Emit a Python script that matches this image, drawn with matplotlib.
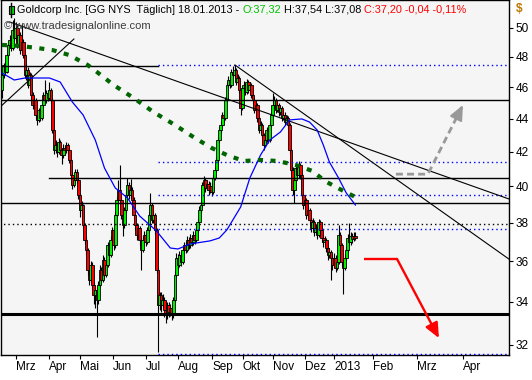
import matplotlib
matplotlib.use("Agg")
import matplotlib.pyplot as plt
import numpy as np
from matplotlib.patches import Rectangle
from matplotlib.lines import Line2D
from matplotlib.transforms import IdentityTransform
from matplotlib.ticker import FixedLocator, NullLocator, NullFormatter

# ---------------- data (daily candles, Feb 2012 - 18 Jan 2013) ----------------
first_open = 45.82
closes = [
    46.80, 47.46, 47.00, 48.13, 48.82, 49.16, 48.61, 49.86, 49.30, 50.00,
    48.82, 49.51, 48.47, 49.02, 48.13, 46.80, 47.13, 46.14, 46.80, 45.50,
    44.86, 45.18, 44.24, 43.93, 44.55, 44.05, 44.86, 45.50, 45.18, 45.63,
    45.31, 45.82, 45.18, 43.31, 42.11, 42.41, 41.99, 42.58, 42.11, 41.81,
    42.23, 42.11, 42.41, 42.11, 41.52, 40.65, 40.08, 40.37, 40.82, 40.37,
    39.52, 38.70, 38.97, 37.89, 37.10, 36.58, 35.57, 35.07, 35.82, 34.82,
    34.33, 34.58, 34.09, 34.82, 35.57, 35.07, 36.07, 35.32, 35.82, 36.84,
    36.32, 37.10, 37.63, 36.84, 38.43, 39.25, 39.80, 39.25, 38.43, 37.89,
    38.70, 39.52, 40.08, 39.52, 39.80, 39.25, 38.43, 37.89, 37.36, 37.73,
    37.10, 36.58, 37.10, 37.36, 37.00, 37.63, 38.43, 38.97, 38.16, 38.43,
    37.63, 35.57, 33.85, 34.33, 33.85, 34.09, 33.62, 33.38, 33.85, 33.52,
    33.71, 33.38, 34.09, 35.32, 36.17, 35.82, 36.32, 35.97, 36.58, 36.84,
    36.58, 37.10, 36.84, 37.20, 37.00, 37.36, 37.10, 37.63, 38.05, 38.70,
    38.97, 40.08, 40.37, 39.92, 40.14, 39.80, 40.03, 39.69, 40.48, 40.94,
    41.52, 42.70, 43.31, 43.62, 44.24, 44.05, 45.18, 46.14, 46.47, 46.14,
    47.00, 46.80, 47.13, 46.34, 46.60, 45.82, 44.67, 45.95, 46.14, 45.69,
    46.34, 45.82, 46.14, 45.50, 45.18, 44.55, 44.86, 44.05, 43.31, 43.62,
    43.01, 42.41, 42.70, 43.31, 42.70, 43.62, 44.24, 44.86, 45.18, 44.55,
    44.86, 44.42, 44.67, 44.05, 44.24, 43.80, 44.05, 43.62, 42.11, 40.94,
    39.80, 40.37, 41.05, 40.65, 41.23, 40.65, 39.52, 38.97, 39.25, 38.43,
    38.70, 38.16, 37.73, 38.05, 37.52, 37.73, 37.36, 38.05, 37.63, 37.20,
    37.00, 37.10, 36.68, 36.32, 36.48, 36.17, 35.82, 36.17, 35.67, 35.97,
    37.36, 36.84, 35.97, 35.67, 36.17, 36.58, 37.20, 37.00, 37.31, 37.15,
    37.32, 37.20,
]
highs = [
    46.95, 47.60, 47.70, 48.30, 49.00, 49.50, 49.40, 50.57, 50.71, 50.40,
    50.20, 49.80, 49.70, 50.30, 49.20, 48.30, 47.50, 47.30, 47.00, 46.95,
    45.70, 45.40, 45.30, 44.40, 44.70, 44.70, 45.00, 45.70, 46.47, 45.85,
    45.80, 46.34, 45.95, 45.30, 43.40, 42.70, 42.55, 42.80, 42.70, 42.25,
    42.45, 42.40, 42.60, 42.55, 42.25, 41.65, 40.80, 40.60, 41.00, 41.00,
    40.50, 39.65, 39.20, 39.05, 38.00, 37.25, 36.70, 35.70, 36.00, 35.95,
    34.95, 34.80, 34.70, 35.00, 35.80, 35.70, 36.30, 36.20, 36.00, 37.00,
    36.95, 37.30, 37.80, 37.75, 38.60, 39.40, 40.37, 41.23, 39.40, 38.55,
    38.85, 39.70, 40.48, 40.25, 40.40, 39.95, 39.40, 38.60, 38.00, 37.90,
    37.85, 37.25, 37.30, 37.55, 37.50, 37.80, 38.60, 39.64, 39.10, 38.70,
    38.55, 37.75, 35.70, 34.50, 34.50, 34.40, 34.25, 33.75, 34.00, 34.00,
    33.90, 33.85, 34.25, 35.50, 36.40, 36.35, 36.55, 36.45, 36.80, 37.00,
    37.00, 37.30, 37.25, 37.40, 37.35, 37.55, 37.50, 37.85, 38.25, 38.90,
    39.20, 40.25, 40.60, 40.50, 40.35, 40.30, 40.25, 40.20, 40.65, 41.10,
    41.70, 42.90, 43.50, 43.85, 44.45, 44.50, 45.40, 46.35, 46.70, 46.65,
    47.20, 47.40, 47.46, 47.25, 46.85, 46.70, 45.95, 46.10, 46.40, 46.30,
    46.55, 46.45, 46.35, 46.25, 45.65, 45.30, 45.05, 45.00, 44.20, 43.85,
    43.75, 43.15, 42.90, 43.50, 43.45, 43.80, 44.45, 45.63, 45.45, 45.30,
    45.05, 45.00, 44.85, 44.80, 44.45, 44.40, 44.25, 44.20, 43.75, 42.25,
    41.10, 40.55, 41.25, 41.20, 41.45, 41.35, 40.75, 39.65, 39.45, 39.35,
    38.90, 38.80, 38.30, 38.25, 38.15, 37.95, 37.85, 38.20, 38.15, 37.75,
    37.35, 37.30, 37.20, 36.80, 36.70, 36.60, 36.30, 36.40, 36.30, 36.15,
    37.90, 37.50, 36.95, 36.10, 36.35, 36.80, 37.40, 38.00, 37.50, 37.45,
    37.50, 37.54,
]
lows = [
    45.31, 46.60, 46.85, 46.90, 47.95, 48.60, 48.40, 48.50, 49.10, 49.15,
    48.60, 48.70, 48.20, 48.30, 47.90, 46.60, 46.50, 45.95, 46.00, 45.30,
    44.60, 44.70, 44.00, 43.60, 43.80, 43.85, 43.90, 44.70, 45.00, 45.00,
    45.10, 45.20, 45.00, 43.10, 41.90, 41.95, 41.70, 41.85, 41.90, 41.30,
    41.65, 41.80, 41.95, 41.90, 41.35, 40.40, 39.85, 39.95, 40.20, 40.20,
    39.30, 38.30, 38.50, 37.60, 36.90, 36.30, 35.30, 34.80, 34.95, 34.60,
    33.90, 33.71, 32.36, 33.90, 34.70, 34.90, 34.95, 35.10, 35.20, 35.70,
    36.00, 36.20, 36.95, 36.60, 36.70, 38.30, 39.10, 39.05, 38.20, 37.30,
    37.75, 38.55, 39.40, 39.30, 39.35, 39.05, 38.20, 37.60, 37.10, 37.20,
    36.80, 35.57, 36.45, 36.95, 36.80, 36.90, 37.50, 38.30, 38.00, 38.00,
    37.40, 35.40, 31.68, 33.60, 33.50, 33.70, 33.30, 33.00, 33.20, 33.30,
    33.35, 33.15, 33.25, 34.00, 35.20, 35.60, 35.70, 35.75, 35.85, 36.45,
    36.40, 36.45, 36.65, 36.70, 36.80, 36.85, 36.90, 37.00, 37.50, 37.95,
    38.55, 38.85, 39.95, 39.70, 39.80, 39.55, 39.65, 39.45, 39.60, 40.35,
    40.80, 41.40, 42.55, 43.10, 43.50, 43.80, 43.95, 45.05, 46.00, 45.95,
    46.00, 46.60, 46.65, 46.15, 46.20, 45.60, 44.24, 44.55, 45.80, 45.50,
    45.55, 45.60, 45.70, 45.30, 44.95, 44.35, 44.40, 43.80, 43.10, 43.15,
    42.80, 42.10, 42.30, 42.60, 42.50, 42.60, 43.50, 44.10, 44.70, 44.35,
    44.40, 44.20, 44.25, 43.85, 43.90, 43.60, 43.65, 43.40, 41.90, 40.70,
    39.55, 39.08, 40.25, 40.45, 40.50, 40.45, 39.30, 38.75, 38.85, 38.20,
    38.30, 37.95, 37.50, 37.60, 37.30, 37.40, 37.15, 37.25, 37.45, 37.00,
    36.75, 36.85, 36.45, 36.05, 36.15, 35.07, 35.55, 35.70, 35.45, 35.55,
    35.85, 36.65, 35.75, 34.40, 35.55, 36.05, 36.45, 36.80, 36.85, 36.95,
    37.05, 37.08,
]
opens = [first_open] + closes[:-1]

# moving averages (bar index, value)
ma_fast_idx = [0, 8, 15, 31, 38, 46, 53, 61, 67, 74, 82, 90, 101, 110, 115, 123,
               136, 142, 147, 156, 162, 169, 175, 182, 188, 196, 201, 206, 210,
               214, 220, 225, 231]
ma_fast_val = [46.93, 46.47, 46.60, 46.60, 46.34, 45.05, 44.24, 42.70, 41.05, 39.92,
               39.36, 38.37, 37.57, 36.68, 36.63, 36.89, 37.05, 37.20, 37.63, 38.86,
               40.48, 41.81, 42.70, 43.19, 43.93, 43.99, 43.80, 43.31, 42.41, 41.40,
               40.48, 39.64, 38.97]
ma_slow_idx = [0, 12, 23, 33, 44, 56, 62, 73, 86, 99, 113, 126, 137, 147, 158, 169,
               180, 192, 203, 211, 222, 231]
ma_slow_val = [48.82, 48.75, 48.61, 48.47, 48.13, 47.46, 47.00, 46.14, 45.31, 44.42,
               43.62, 42.83, 42.23, 41.81, 41.46, 41.52, 41.46, 41.23, 40.88, 40.31,
               39.80, 39.41]

# drawn horizontal levels: (price, start bar)
solid_levels = [(45.18, -5), (40.50, 31), (39.08, -5)]
top_level = (47.40, -5, 102)
thick_level = 33.43
dotted_black_level = 37.94
fib_low, fib_high, fib_start = 31.60, 47.46, 102
fib_ratios = [0.0, 0.382, 0.5, 0.618, 1.0]

# trend lines: ((bar, price), (bar, price))
trend_lines = [((5.2, 50.42), (331.4, 39.30)),
               ((152.3, 47.46), (331.4, 36.11)),
               ((-1.3, 44.73), (47.0, 49.23))]

# forecast arrows
red_arrow = [(236.6, 36.12), (258.2, 36.12), (285.6, 32.31)]
gray_arrow = [(257.5, 40.70), (278.4, 40.70), (301.3, 44.86)]

month_pos = [9.2, 30.7, 51, 72.5, 94.1, 115, 137.3, 157.5, 177.1, 198, 217,
             242.5, 271.2, 301.3]
month_labels = ['Mrz', 'Apr', 'Mai', 'Jun', 'Jul', 'Aug', 'Sep', 'Okt', 'Nov',
                'Dez', '2013', 'Feb', 'Mrz', 'Apr']
y_ticks = [32, 34, 36, 38, 40, 42, 44, 46, 48, 50]

title_parts = [("Goldcorp Inc. [GG NYS  Täglich] 18.01.2013 - ", "black"),
               ("O:37,32", "#00C000"),
               (" H:37,54 L:37,08 ", "black"),
               ("C:37,20 -0,04 -0,11%", "#FF0000")]

# ---------------- figure ----------------
plt.rcParams['font.family'] = ['Liberation Sans', 'DejaVu Sans']
W, H = 532, 380
fig = plt.figure(figsize=(W / 100, H / 100), dpi=100)
fig.patch.set_facecolor('white')
ax = fig.add_axes([1 / W, 25 / H, 508 / W, 355 / H])
ax.set_facecolor('#F5F5F5')
ax.set_yscale('log')
ax.set_ylim(31.55, 52.01)
ax.set_xlim(-0.65, 331.4)

n = len(closes)
x = np.arange(n)
o = np.array(opens)
c = np.array(closes)
cols = ['#00EE00' if cc >= oo else '#FF0000' for oo, cc in zip(o, c)]
ax.vlines(x, lows, highs, color='black', lw=0.8, zorder=3)
ax.bar(x, c - o, bottom=o, width=1.75, color=cols, edgecolor='black',
       linewidth=0.6, zorder=4)

xr = 331.4
for lvl, start in solid_levels:
    ax.plot([start, xr], [lvl, lvl], color='black', lw=1.0, zorder=5)
ax.plot([top_level[1], top_level[2]], [top_level[0]] * 2, color='black', lw=1.0, zorder=5)
ax.plot([-5, xr], [thick_level] * 2, color='black', lw=2.2, zorder=5)
ax.plot([-5, xr], [dotted_black_level] * 2, color='black', lw=1.0,
        ls=(0, (1, 2.2)), zorder=5)
for r in fib_ratios:
    lvl = fib_high - r * (fib_high - fib_low)
    ax.plot([fib_start, xr], [lvl, lvl], color='#0000FF', lw=1.0,
            ls=(0, (1, 2.2)), zorder=5)

for (x0, y0), (x1, y1) in trend_lines:
    ax.plot([x0, x1], [y0, y1], color='black', lw=0.8, zorder=5)

ax.plot(ma_fast_idx, ma_fast_val, color='#0000FF', lw=0.9, zorder=6)
ax.plot(ma_slow_idx, ma_slow_val, color='#006400', lw=3.0,
        ls=(0, (1.2, 1.8)), zorder=6)

# red forecast arrow
ax.plot([red_arrow[0][0], red_arrow[1][0]], [red_arrow[0][1], red_arrow[1][1]],
        color='#FF0000', lw=1.7, zorder=7, solid_capstyle='butt')
ax.annotate('', xy=red_arrow[2], xytext=red_arrow[1],
            arrowprops=dict(arrowstyle='-|>,head_length=0.9,head_width=0.4',
                            color='#FF0000', lw=1.7, shrinkA=0, shrinkB=0),
            zorder=7)
# gray dashed arrow
gx = [p[0] for p in gray_arrow]
gy = [p[1] for p in gray_arrow]
ax.plot(gx, gy, color='#999999', lw=2.0, ls=(0, (2.5, 1.5)), zorder=7)
ax.annotate('', xy=gray_arrow[2],
            xytext=(gray_arrow[2][0] - 0.12 * (gray_arrow[2][0] - gray_arrow[1][0]),
                    gray_arrow[2][1] * (gray_arrow[1][1] / gray_arrow[2][1]) ** 0.12),
            arrowprops=dict(arrowstyle='-|>,head_length=0.9,head_width=0.4',
                            color='#999999', lw=1.5, shrinkA=0, shrinkB=0),
            zorder=7)

# axes styling
for s in ax.spines.values():
    s.set_color('black')
    s.set_linewidth(1.0)
ax.yaxis.tick_right()
ax.yaxis.set_major_locator(FixedLocator(y_ticks))
ax.yaxis.set_minor_locator(NullLocator())
ax.yaxis.set_minor_formatter(NullFormatter())
ax.set_yticklabels([str(v) for v in y_ticks])
ax.tick_params(axis='y', direction='out', length=3, width=0.8, pad=2,
               labelsize=8.5, colors='black')
ax.set_xticks(month_pos)
ax.set_xticklabels(month_labels)
ax.tick_params(axis='x', direction='out', length=3, width=0.8, pad=1.5, labelsize=8.5)
for lab in ax.get_xticklabels():
    lab.set_ha('left')

# title line with colored parts
idt = IdentityTransform()
fig.canvas.draw()
rend = fig.canvas.get_renderer()
xpos = 17
for txt, col in title_parts:
    t = fig.text(xpos, H - 10, txt, transform=idt, color=col, fontsize=7.8,
                 va='center', ha='left')
    bb = t.get_window_extent(renderer=rend)
    xpos = bb.x1

# small candle icon
fig.add_artist(Line2D([11, 11], [H - 3, H - 17], transform=idt, color='black', lw=1))
fig.add_artist(Rectangle((8.5, H - 14), 5, 8, transform=idt, facecolor='#00DD00',
                         edgecolor='black', lw=0.8))

fig.text(4, H - 26, "\u00a9 www.tradesignalonline.com", transform=idt,
         color='#3C3C3C', fontsize=8, va='center', ha='left')
fig.text(516, H - 9, "$", transform=idt, color='#C07800', fontsize=8.5,
         fontweight='bold', va='center', ha='left')

fig.savefig('out.png', dpi=100)
